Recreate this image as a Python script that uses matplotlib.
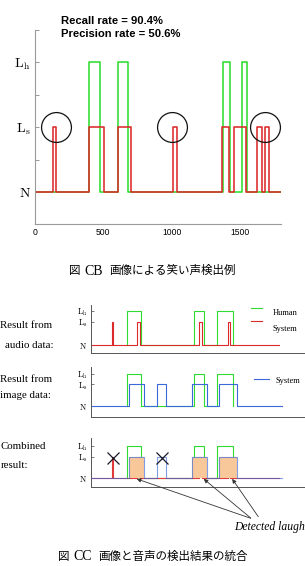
import matplotlib
matplotlib.use('Agg')
import matplotlib.pyplot as plt
from matplotlib.lines import Line2D

plt.rcParams['mathtext.fontset'] = 'cm'

W, H = 305, 566

# ---------------- data: top chart ----------------
level_labels = [r'$\mathrm{N}$', r'$\mathrm{L_s}$', r'$\mathrm{L_h}$']
top_levels = [0, 1, 2]
top_human_on = [397, 610, 1378, 1516]
top_human_off = [475, 683, 1426, 1551]
top_system_on = [134, 397, 610, 1007, 1365, 1458, 1626, 1683]
top_system_off = [154, 505, 700, 1036, 1422, 1541, 1663, 1709]
top_end = 1800
missed_centers = [151, 1002, 1682]
recall = 90.4
precision = 50.6
xticks_top = [0, 500, 1000, 1500]

# ---------------- data: bottom panels ----------------
panel_levels = [0, 1, 1.5]
human_on = [36, 103.6, 126]
human_off = [50.3, 113.6, 142.6]
audio_on = [21.6, 46.6, 108.6, 137]
audio_off = [22.4, 49.3, 111.3, 139.3]
audio_end = 188.3
image_on = [38.6, 66.6, 101.6, 128.3]
image_off = [53.3, 75.3, 116, 146.6]
image_end = 191
combined_keep = [True, False, True, True]
rejected_x = [22, 71]
rejected_y = [0.93, 0.93]
arrow_targets_x = [46, 113, 141.5]


def step(on, off, level, end):
    xs, ys = [0], [0]
    for a, b in zip(on, off):
        xs += [a, a, b, b]
        ys += [0, level, level, 0]
    xs.append(end)
    ys.append(0)
    return xs, ys


fig = plt.figure(figsize=(W / 100, H / 100), dpi=100)


def ax_px(left, top, right, bottom):
    return fig.add_axes([left / W, 1 - bottom / H, (right - left) / W, (bottom - top) / H])


GREEN = '#2fdc2f'
RED = '#dc2a2a'
BLUE = '#3a6ad8'

# ---------------- top chart ----------------
ax = ax_px(35, 30, 281, 224.3)
hx, hy = step(top_human_on, top_human_off, 2, top_end)
sx, sy = step(top_system_on, top_system_off, 1, top_end)
ax.plot(hx, hy, color=GREEN, lw=1.15)
ax.plot(sx, sy, color=RED, lw=1.15)
ax.plot(missed_centers, [1] * len(missed_centers), 'o', ms=21.5, mfc='none',
        mec='#111111', mew=0.9)
ax.set_xlim(0, 1800)
ax.set_ylim(-0.5, 2.5)
ax.set_yticks(top_levels)
ax.set_yticklabels(level_labels, fontsize=10)
ax.set_yticks([-0.5, 0.5, 1.5, 2.5], minor=True)
ax.set_xticks(xticks_top)
ax.set_xticklabels([str(v) for v in xticks_top], fontsize=6.2, family='Liberation Sans')
ax.tick_params(axis='y', which='both', direction='in', length=3, width=0.6,
               color='#888888', pad=3)
ax.tick_params(axis='x', length=0, pad=3)
for s in ['top', 'right']:
    ax.spines[s].set_visible(False)
for s in ['left', 'bottom']:
    ax.spines[s].set_color('#9a9a9a')
    ax.spines[s].set_linewidth(0.8)

fig.text(60.7 / W, 1 - 20.7 / H, f'Recall rate = {recall}%', fontsize=8.1,
         weight='bold', family='Liberation Sans', va='center', ha='left')
fig.text(60.7 / W, 1 - 34 / H, f'Precision rate = {precision}%', fontsize=8.1,
         weight='bold', family='Liberation Sans', va='center', ha='left')

# caption 1
cjk = ['Noto Sans CJK JP', 'DejaVu Sans']
fig.text(69 / W, 1 - 270.7 / H, '図', fontsize=8.3, family=cjk, va='center', ha='left')
fig.text(84.5 / W, 1 - 271 / H, 'CB', fontsize=10, family='Liberation Serif',
         va='center', ha='left')
fig.text(109.3 / W, 1 - 270.7 / H, '画像による笑い声検出例', fontsize=8.3, family=cjk,
         va='center', ha='left')

# ---------------- bottom panels ----------------
SERIF = 'Liberation Serif'


def panel(top, bottom, ylim):
    a = ax_px(90.7, top, 305, bottom)
    a.set_xlim(0, 214.3)
    a.set_ylim(*ylim)
    a.set_xticks([])
    a.set_yticks(panel_levels)
    a.set_yticklabels(level_labels, fontsize=6)
    a.tick_params(axis='y', direction='in', length=2, width=0.5, pad=2.5,
                  color='#444444')
    for s in ['top', 'right']:
        a.spines[s].set_visible(False)
    for s in ['left', 'bottom']:
        a.spines[s].set_color('#555555')
        a.spines[s].set_linewidth(0.7)
    return a


gx, gy = step(human_on, human_off, 1.5, human_on[0])
gx, gy = gx[1:-1], gy[1:-1]
ax_x, ax_y = step(audio_on, audio_off, 1, audio_end)
ix, iy = step(image_on, image_off, 1, image_end)

# panel 1: audio
p1 = panel(305, 353.3, (-0.36, 1.74))
p1.plot(gx, gy, color=GREEN, lw=0.8)
p1.plot(ax_x, ax_y, color=RED, lw=0.8)
fig.add_artist(Line2D([250.7 / W, 262 / W], [1 - 308.3 / H] * 2, color=GREEN, lw=0.8))
fig.add_artist(Line2D([250.7 / W, 262 / W], [1 - 320.7 / H] * 2, color=RED, lw=0.8))
fig.text(272.7 / W, 1 - 313.3 / H, 'Human', fontsize=6, family=SERIF, va='center')
fig.text(272.7 / W, 1 - 329.3 / H, 'System', fontsize=6, family=SERIF, va='center')
fig.text(0.5 / W, 1 - 325 / H, 'Result from', fontsize=7.8, family=SERIF, va='center')
fig.text(5 / W, 1 - 345 / H, 'audio data:', fontsize=7.8, family=SERIF, va='center')

# panel 2: image
p2 = panel(367, 417, (-0.51, 1.81))
p2.plot(gx, gy, color=GREEN, lw=0.8)
p2.plot(ix, iy, color=BLUE, lw=0.8)
fig.add_artist(Line2D([254 / W, 269.3 / W], [1 - 379.3 / H] * 2, color=BLUE, lw=0.8))
fig.text(276 / W, 1 - 380.7 / H, 'System', fontsize=6, family=SERIF, va='center')
fig.text(0.5 / W, 1 - 380 / H, 'Result from', fontsize=7.8, family=SERIF, va='center')
fig.text(0.5 / W, 1 - 395.7 / H, 'image data:', fontsize=7.8, family=SERIF, va='center')

# panel 3: combined
p3 = panel(438, 487.3, (-0.42, 1.87))
p3.plot(gx, gy, color=GREEN, lw=0.8)
p3.plot(ax_x, ax_y, color='#e03a3a', lw=0.8)
for a, b, keep in zip(image_on, image_off, combined_keep):
    if keep:
        p3.fill_between([a, b], 0, 1, color='#f8c89a', lw=0, zorder=2.5)
p3.plot(ix, iy, color=BLUE, lw=0.8, alpha=0.65, zorder=3)
p3.plot(rejected_x, rejected_y, 'x', ms=8.5, mew=0.9, color='#1a1a2a', zorder=4)
fig.text(0.5 / W, 1 - 446.7 / H, 'Combined', fontsize=7.8, family=SERIF, va='center')
fig.text(0.5 / W, 1 - 465 / H, 'result:', fontsize=7.8, family=SERIF, va='center')

tails = [(250.7, H - 518.3), (250.7, H - 518.0), (258.3, H - 516.7)]
for tx, tail in zip(arrow_targets_x, tails):
    p3.annotate('', xy=(tx, -0.03), xycoords='data', xytext=tail,
                textcoords='figure pixels',
                arrowprops=dict(arrowstyle='-|>', color='#333333', lw=0.6,
                                mutation_scale=6, shrinkA=0, shrinkB=0),
                annotation_clip=False, zorder=5)
fig.text(234 / W, 1 - 527 / H, 'Detected laugh', fontsize=8.4, family=SERIF,
         style='italic', va='center', ha='left')

# caption 2
fig.text(58.3 / W, 1 - 556.7 / H, '図', fontsize=8.3, family=cjk, va='center', ha='left')
fig.text(73.5 / W, 1 - 557 / H, 'CC', fontsize=10, family=SERIF, va='center', ha='left')
fig.text(98.3 / W, 1 - 556.7 / H, '画像と音声の検出結果の統合', fontsize=8.3, family=cjk,
         va='center', ha='left')

fig.savefig('out.png', dpi=100, facecolor='white')
